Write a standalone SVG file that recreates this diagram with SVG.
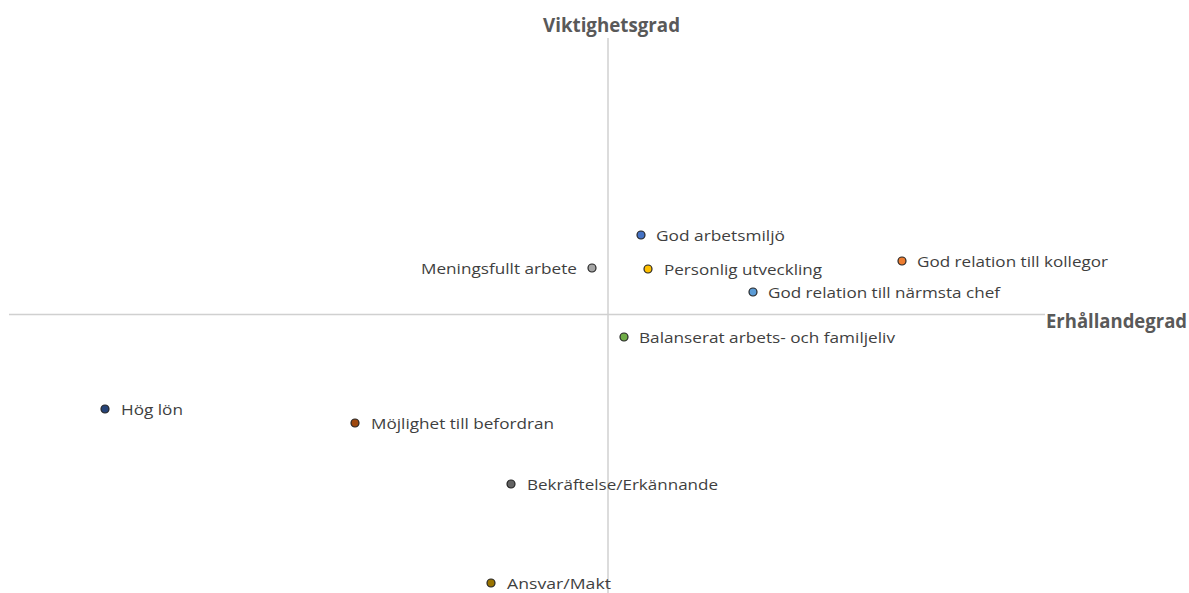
<svg xmlns="http://www.w3.org/2000/svg" width="1189" height="593" viewBox="0 0 1189 593">
<style>
.lbl{font-family:"Open Sans","Liberation Sans",sans-serif;font-size:15px;fill:#3f3f3f}
.ttl{font-family:"Open Sans","Liberation Sans",sans-serif;font-size:19px;font-weight:bold;fill:#595959}
.dot{stroke:#262626;stroke-width:1.2}
.axis{stroke:#d0d0d0;stroke-width:1.5;fill:none}
</style>
<rect width="1189" height="593" fill="#ffffff"/>
<g id="axes">
<line class="axis" x1="608" y1="38" x2="608" y2="593"/>
<line class="axis" x1="9" y1="314.5" x2="1045" y2="314.5"/>
<text class="ttl" x="543" y="32" textLength="137" lengthAdjust="spacingAndGlyphs">Viktighetsgrad</text>
<text class="ttl" x="1046" y="328" textLength="141" lengthAdjust="spacingAndGlyphs">Erhållandegrad</text>
</g>
<g id="god-arbetsmiljo"><circle class="dot" cx="641" cy="235" r="4" fill="#4472C4"/><text class="lbl" x="656" y="241" textLength="129" lengthAdjust="spacingAndGlyphs">God arbetsmiljö</text></g>
<g id="meningsfullt-arbete"><circle class="dot" cx="592" cy="268" r="4" fill="#A5A5A5"/><text class="lbl" x="421" y="274" textLength="156" lengthAdjust="spacingAndGlyphs">Meningsfullt arbete</text></g>
<g id="personlig-utveckling"><circle class="dot" cx="648" cy="269" r="4" fill="#FFC000"/><text class="lbl" x="664" y="275" textLength="158" lengthAdjust="spacingAndGlyphs">Personlig utveckling</text></g>
<g id="god-relation-kollegor"><circle class="dot" cx="902" cy="261" r="4" fill="#ED7D31"/><text class="lbl" x="917" y="267" textLength="191" lengthAdjust="spacingAndGlyphs">God relation till kollegor</text></g>
<g id="god-relation-chef"><circle class="dot" cx="753" cy="292" r="4" fill="#5B9BD5"/><text class="lbl" x="768" y="298" textLength="232" lengthAdjust="spacingAndGlyphs">God relation till närmsta chef</text></g>
<g id="balanserat"><circle class="dot" cx="624" cy="337" r="4" fill="#70AD47"/><text class="lbl" x="639" y="343" textLength="256" lengthAdjust="spacingAndGlyphs">Balanserat arbets- och familjeliv</text></g>
<g id="hog-lon"><circle class="dot" cx="105" cy="409" r="4" fill="#264478"/><text class="lbl" x="121" y="415" textLength="62" lengthAdjust="spacingAndGlyphs">Hög lön</text></g>
<g id="mojlighet"><circle class="dot" cx="355" cy="423" r="4" fill="#9E480E"/><text class="lbl" x="371" y="429" textLength="183" lengthAdjust="spacingAndGlyphs">Möjlighet till befordran</text></g>
<g id="bekraftelse"><circle class="dot" cx="511" cy="484" r="4" fill="#636363"/><text class="lbl" x="527" y="490" textLength="191" lengthAdjust="spacingAndGlyphs">Bekräftelse/Erkännande</text></g>
<g id="ansvar"><circle class="dot" cx="491" cy="583" r="4" fill="#997300"/><text class="lbl" x="507" y="589" textLength="104" lengthAdjust="spacingAndGlyphs">Ansvar/Makt</text></g>
</svg>
